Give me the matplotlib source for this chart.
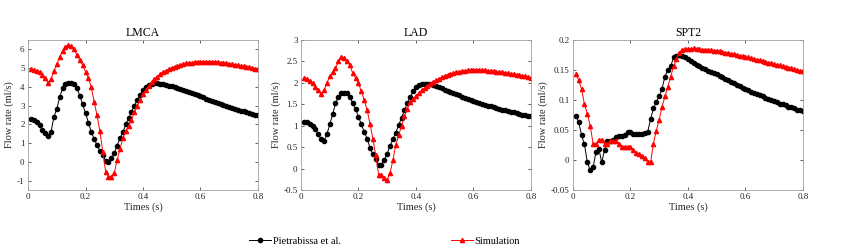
import numpy as np
import matplotlib
matplotlib.use('Agg')
import matplotlib.pyplot as plt
from matplotlib.ticker import FuncFormatter

plt.rcParams['font.family'] = ['Liberation Serif', 'DejaVu Serif']
plt.rcParams['axes.unicode_minus'] = False

# время, с (шаг 0.01)
times = np.round(np.arange(1, 81) / 100, 2)

# LMCA
lmca_exp = [2.29, 2.23, 2.12, 1.97, 1.72, 1.52, 1.36, 1.6, 2.4, 2.82,
            3.44, 3.92, 4.15, 4.22, 4.22, 4.16, 3.93, 3.54, 3.07, 2.6,
            2.1, 1.61, 1.23, 0.9, 0.6, 0.37, 0.06, -0.02, 0.19, 0.46,
            0.86, 1.27, 1.58, 2.0, 2.32, 2.68, 3.0, 3.3, 3.56, 3.85,
            4.0, 4.1, 4.18, 4.22, 4.2, 4.17, 4.14, 4.11, 4.07, 4.03,
            3.99, 3.95, 3.9, 3.85, 3.8, 3.74, 3.68, 3.62, 3.56, 3.5,
            3.44, 3.38, 3.32, 3.26, 3.2, 3.15, 3.09, 3.04, 2.98, 2.93,
            2.88, 2.83, 2.78, 2.74, 2.69, 2.65, 2.6, 2.56, 2.52, 2.48]
lmca_sim = [4.93, 4.92, 4.86, 4.77, 4.63, 4.45, 4.19, 4.42, 4.85, 5.2,
            5.61, 5.93, 6.14, 6.23, 6.18, 6.02, 5.7, 5.43, 5.17, 4.81,
            4.49, 4.0, 3.21, 2.5, 1.64, 0.55, -0.52, -0.79, -0.82, -0.6,
            0.1, 0.69, 1.29, 1.65, 1.93, 2.23, 2.64, 2.98, 3.3, 3.6,
            3.85, 4.05, 4.25, 4.42, 4.55, 4.67, 4.78, 4.87, 4.95, 5.02,
            5.08, 5.13, 5.18, 5.22, 5.25, 5.28, 5.3, 5.32, 5.33, 5.34,
            5.35, 5.35, 5.35, 5.34, 5.33, 5.32, 5.3, 5.28, 5.26, 5.24,
            5.22, 5.19, 5.16, 5.13, 5.1, 5.07, 5.04, 5.01, 4.98, 4.95]

# LAD
lad_exp = [1.09, 1.08, 1.05, 1.0, 0.92, 0.8, 0.68, 0.65, 0.8, 1.03,
           1.27, 1.52, 1.68, 1.76, 1.77, 1.76, 1.68, 1.52, 1.39, 1.21,
           1.03, 0.86, 0.7, 0.49, 0.33, 0.22, 0.08, 0.08, 0.21, 0.35,
           0.53, 0.69, 0.84, 1.02, 1.18, 1.37, 1.52, 1.67, 1.8, 1.9,
           1.95, 1.97, 1.97, 1.97, 1.97, 1.95, 1.92, 1.9, 1.87, 1.84,
           1.81, 1.79, 1.76, 1.73, 1.71, 1.68, 1.65, 1.62, 1.6, 1.57,
           1.55, 1.53, 1.51, 1.49, 1.47, 1.45, 1.43, 1.41, 1.39, 1.37,
           1.36, 1.34, 1.32, 1.31, 1.29, 1.28, 1.26, 1.25, 1.23, 1.22]
lad_sim = [2.11, 2.09, 2.05, 1.99, 1.91, 1.84, 1.73, 1.83, 2.0, 2.15,
           2.25, 2.34, 2.5, 2.6, 2.58, 2.52, 2.41, 2.23, 2.11, 1.99,
           1.8, 1.6, 1.37, 1.05, 0.7, 0.31, -0.14, -0.16, -0.22, -0.26,
           -0.1, 0.2, 0.56, 0.78, 1.0, 1.22, 1.4, 1.55, 1.63, 1.7,
           1.76, 1.83, 1.88, 1.93, 1.98, 2.02, 2.06, 2.1, 2.13, 2.16,
           2.19, 2.21, 2.23, 2.25, 2.26, 2.27, 2.28, 2.29, 2.3, 2.3,
           2.3, 2.3, 2.29, 2.29, 2.28, 2.27, 2.27, 2.26, 2.25, 2.25,
           2.24, 2.23, 2.21, 2.2, 2.19, 2.18, 2.16, 2.15, 2.13, 2.12]

# SPT2
spt2_exp = [0.074, 0.063, 0.041, 0.026, -0.004, -0.017, -0.012, 0.013, 0.019, -0.004,
            0.017, 0.032, 0.032, 0.033, 0.039, 0.040, 0.040, 0.042, 0.047, 0.047,
            0.044, 0.044, 0.044, 0.044, 0.045, 0.047, 0.068, 0.086, 0.097, 0.106,
            0.119, 0.139, 0.150, 0.156, 0.171, 0.173, 0.175, 0.173, 0.171, 0.168,
            0.165, 0.162, 0.159, 0.156, 0.154, 0.151, 0.149, 0.147, 0.145, 0.143,
            0.140, 0.138, 0.135, 0.133, 0.130, 0.128, 0.125, 0.123, 0.120, 0.118,
            0.116, 0.114, 0.112, 0.110, 0.108, 0.106, 0.104, 0.102, 0.100, 0.098,
            0.096, 0.094, 0.093, 0.091, 0.089, 0.088, 0.086, 0.084, 0.083, 0.081]
spt2_sim = [0.143, 0.133, 0.118, 0.093, 0.077, 0.057, 0.027, 0.027, 0.034, 0.034,
            0.027, 0.027, 0.031, 0.032, 0.031, 0.027, 0.022, 0.022, 0.022, 0.021,
            0.017, 0.011, 0.010, 0.007, 0.003, -0.004, -0.004, 0.027, 0.049, 0.067,
            0.089, 0.106, 0.122, 0.139, 0.156, 0.168, 0.179, 0.184, 0.185, 0.185,
            0.185, 0.186, 0.185, 0.185, 0.184, 0.184, 0.183, 0.183, 0.182, 0.182,
            0.181, 0.180, 0.179, 0.178, 0.177, 0.176, 0.175, 0.174, 0.173, 0.172,
            0.171, 0.170, 0.168, 0.167, 0.166, 0.165, 0.164, 0.162, 0.161, 0.160,
            0.159, 0.158, 0.156, 0.155, 0.154, 0.153, 0.151, 0.150, 0.149, 0.148]

titles = ['LMCA', 'LAD', 'SPT2']
exp_data = [lmca_exp, lad_exp, spt2_exp]
sim_data = [lmca_sim, lad_sim, spt2_sim]
ylims = [(-1.5, 6.5), (-0.5, 3), (-0.05, 0.2)]
yticks = [np.arange(-1, 7, 1), np.arange(-0.5, 3.01, 0.5), np.arange(-0.05, 0.201, 0.05)]
lefts = [0.0333, 0.3575, 0.6805]

fig = plt.figure(figsize=(8.42, 2.52), dpi=100)
fmt = FuncFormatter(lambda v, p: '{:g}'.format(round(v, 3)))
gray = '#262626'

for i in range(3):
    ax = fig.add_axes([lefts[i], 0.246, 0.273, 0.595])
    l1, = ax.plot(times, exp_data[i], color='black', marker='o', markersize=3,
                  linewidth=0.7, label='Pietrabissa et al.')
    l2, = ax.plot(times, sim_data[i], color='red', marker='^', markersize=3,
                  linewidth=0.7, label='Simulation')
    ax.set_xlim(0, 0.8)
    ax.set_ylim(*ylims[i])
    ax.set_xticks([0, 0.2, 0.4, 0.6, 0.8])
    ax.set_yticks(yticks[i])
    ax.xaxis.set_major_formatter(fmt)
    ax.yaxis.set_major_formatter(fmt)
    ax.tick_params(direction='in', top=True, right=True, length=2.5, width=0.5,
                   labelsize=6.5, colors=gray, pad=2.5)
    for s in ax.spines.values():
        s.set_color('#a0a0a0')
        s.set_linewidth(0.6)
    ax.set_title(titles[i], fontsize=8.5, pad=3)
    ax.set_xlabel('Times (s)', fontsize=7.5, color=gray, labelpad=1)
    ax.set_ylabel('Flow rate (ml/s)', fontsize=7.5, color=gray, labelpad=2)

fig.legend(handles=[l1, l2], loc='center', bbox_to_anchor=(0.457, 0.044), ncol=2,
           frameon=False, fontsize=7.5, handlelength=2.1, handletextpad=0.2,
           columnspacing=10.5)

plt.savefig('out.png', dpi=100)
